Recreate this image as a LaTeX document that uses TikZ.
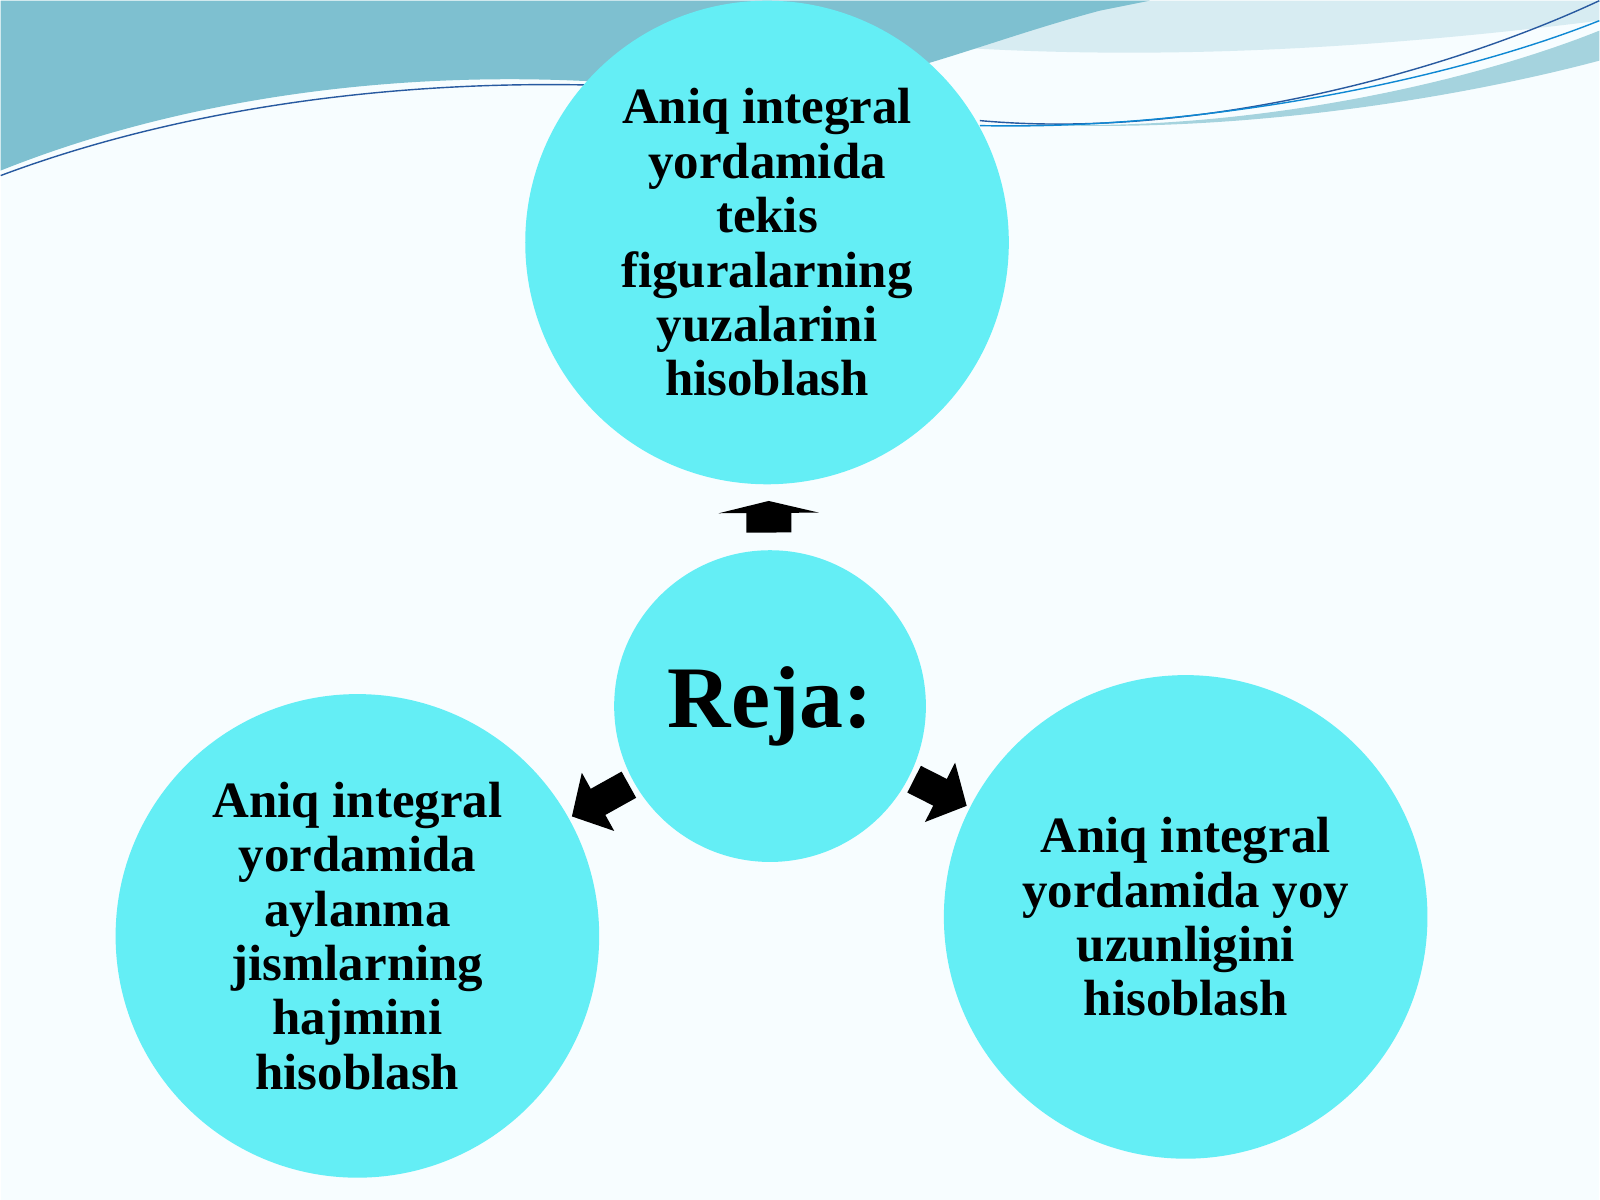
\documentclass[tikz,border=0pt]{standalone}
\usepackage{fontspec}
\setmainfont{Liberation Serif}
\usetikzlibrary{arrows.meta}
\definecolor{cyanc}{RGB}{100,238,245}
\definecolor{wave1}{RGB}{126,192,208}
\definecolor{wave2}{RGB}{215,236,242}
\definecolor{line1}{RGB}{40,90,160}
\begin{document}
\begin{tikzpicture}
\tikzset{
 bub/.style={circle,fill=cyanc,minimum size=4.84cm,inner sep=0pt,align=center,font=\bfseries\fontsize{14.5}{15.5}\selectfont},
 arr/.style={line width=0.45cm,-{Triangle[width=1.0cm,length=0.12cm]}},
 arrd/.style={line width=0.3cm,-{Triangle[width=0.65cm,length=0.3cm]},shorten <=0.05cm,shorten >=0.03cm}
}
\fill[white!97!cyan] (0,0) rectangle (16,12);
% waves
\fill[wave2] (6,12) .. controls (9,11.4) and (12,11.3) .. (16,11.8) -- (16,12) -- cycle;
\fill[wave1] (0,12) -- (0,10.3) .. controls (2,11.1) and (4.5,11.4) .. (7,11.1) .. controls (8.5,10.95) and (9.5,11.5) .. (11,11.9) -- (11.5,12) -- cycle;
\fill[wave1!70!white] (9.8,10.8) .. controls (12,10.6) and (14.5,11.1) .. (16,11.7) -- (16,11.4) .. controls (14.5,11.0) and (12,10.6) .. (9.8,10.8) -- cycle;
\draw[line1,thin] (0,10.25) .. controls (2,11) and (4.5,11.3) .. (7,11.1);
\draw[line1,thin] (9.8,10.8) .. controls (12,10.6) and (14.5,11.3) .. (16,12);
\draw[cyan!70!blue,thin] (9.8,10.75) .. controls (12,10.7) and (14.5,11.2) .. (16,11.8);
\node[bub] (top) at (7.67,9.58) {Aniq integral\\yordamida\\tekis\\figuralarning\\yuzalarini\\hisoblash};
\node[bub,minimum size=3.12cm,font=\bfseries\fontsize{25}{30}\selectfont] (c) at (7.70,4.94) {Reja:};
\node[bub] (l) at (3.57,2.64) {Aniq integral\\yordamida\\aylanma\\jismlarning\\hajmini\\hisoblash};
\node[bub] (r) at (11.86,2.83) {Aniq integral\\yordamida yoy\\uzunligini\\hisoblash};
\draw[arr,shorten <=0.17cm,shorten >=0.16cm] (c) -- (top);
\draw[arrd] (c) -- (l);
\draw[arrd] (c) -- (r);
\end{tikzpicture}
\end{document}
